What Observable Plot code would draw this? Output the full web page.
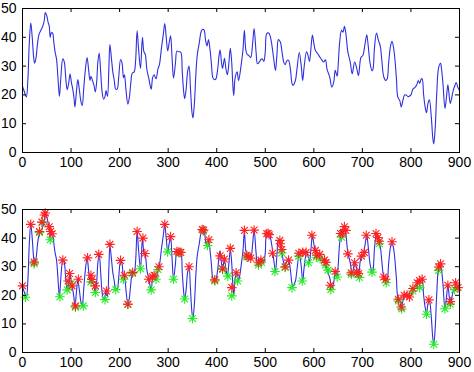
<!DOCTYPE html>
<html>
<head>
<meta charset="utf-8">
<script src="https://cdn.jsdelivr.net/npm/d3@7"></script>
<script src="https://cdn.jsdelivr.net/npm/@observablehq/plot@0.6"></script>
<style>
  html, body { margin: 0; padding: 0; background: #fff; }
  svg { display: block; }
</style>
</head>
<body>
<script>
// ---- data ----
const xTicks = [0, 100, 200, 300, 400, 500, 600, 700, 800, 900];
const yTicks = [0, 10, 20, 30, 40, 50];

const signalX = [0,4,8,11,14,17,20,23,25,28,31,34,38,42,45,47,50,53,55,57,59,62,64,67,70,73,76,79,83,86,89,92,95,98,101,103,106,108,111,114,117,120,123,126,129,133,136,139,141,144,147,150,153,155,158,161,164,167,170,172,175,178,180,183,186,189,192,195,198,202,205,208,210,213,217,220,223,226,230,233,236,239,243,247,250,253,256,260,265,268,271,275,279,282,286,290,293,296,299,302,305,308,311,315,318,322,326,329,332,334,337,340,343,346,349,351,354,357,360,364,368,371,374,377,380,383,386,389,392,395,398,402,405,407,410,412,414,416,419,422,425,428,431,433,435,438,442,445,450,454,457,460,463,466,470,474,477,481,484,488,491,494,497,500,503,507,510,513,517,521,524,527,531,534,538,541,545,548,552,555,557,562,565,570,574,577,580,585,588,591,594,597,600,603,608,613,617,620,624,627,630,633,637,641,644,648,650,653,657,660,663,666,670,675,679,684,688,692,697,701,705,709,712,716,720,722,725,729,733,737,740,744,748,751,754,758,761,765,770,773,777,780,784,787,790,794,797,800,804,808,812,815,818,821,823,826,829,832,835,838,842,845,847,850,853,857,861,863,866,870,873,876,878,881,884,887,890,893,897,900];
const signalY = [23,21,19.3,25,38,45,40,33,31,33,38,41,42.5,44,46,48.6,47.5,45,44,40,41.5,41.5,39,35,32.5,26,19.5,26,32.5,31.5,26,21.8,24,27.2,24,22.5,19,15.8,21,25.3,22,18,16.3,22,28,33,29,25,26.5,25,23.5,21,25,31,34.5,28,21,18.5,19.5,21.5,19.5,30,37.5,33,28,25,22,22,26,32.3,31,26,27,22,16.8,19,24,27.5,28,32,42.3,36,29.2,40,35,34,29,25.8,22,26,27,25.6,29,30.5,36,41,44.8,40,35.3,38,40.5,33,25.8,31,35.2,35,34.8,28,21,18.7,22,28,30,22,14,12,17,27,34,38,42,42.8,42.5,39,37,39.2,36,31,26,25.3,25.5,29,34,35.6,31,29.2,31,32.7,29,27,31,36.2,31,24,19.8,26,28,25,30,35.5,42.4,35.5,34,33.7,33,38,43,35,30.8,31.5,32.3,32.5,31.6,35,41.3,41.5,40.5,38,33,28.5,34,39.2,38.4,35.5,31.4,30.5,32,32,28.5,24,23.3,25,28.5,34.7,30.2,25,29.7,35,33.7,31.6,36,40.8,38,35.5,34.3,33,32,31.4,32.2,29,27.5,26,22.7,24.4,28.5,26.5,30,37.8,42.4,41.8,43.8,41.3,35,31.4,27.3,31.4,29.5,26.7,33,33.7,37.2,40.9,37,30.8,28.3,29,36.6,41.5,39,36.8,32,26.3,25,25.5,31,37,38.6,35.5,26,19.2,18,15.8,18.5,20,20,19.4,19.6,20,22,22.5,23.5,25,24,25.5,25.6,20.3,16,13.8,17,18.3,12.2,5,3,8.7,20,29.5,31,29,23.8,15.3,19,23.5,21,17,19,21.5,23,24.3,22.5,21.5];

const peakX = [0,17,24,35,40,45,47,55,58,61,83,94,97,102,109,115,134,141,143,150,157,173,180,202,210,217,227,236,248,252,260,268,271,281,293,305,318,322,326,343,370,373,384,396,407,412,416,428,431,440,457,462,465,470,477,486,491,503,506,508,515,530,531,534,541,548,569,577,584,596,603,606,612,622,625,634,644,655,659,663,666,670,677,684,689,692,698,704,708,728,732,735,744,748,761,774,780,786,792,797,804,813,818,823,837,857,861,876,881,892,897];
const peakY = [23.3,44.8,31.6,42.3,45.6,48.1,48.8,44,42.3,41.5,32.3,25,27.6,23.3,16.3,25.6,33.1,27,25.5,23.3,34.3,21.5,37.8,32.2,27,16.9,28,42.3,40,34.6,25.6,26.5,27,30,44.8,40.5,35.3,35.1,35,30,43,42.8,39.4,25.4,33.8,29.3,32.7,36.4,22.7,27.9,42.7,34,33.5,33,42.8,31.4,32.3,41.5,41.7,41.2,34.7,39.2,38,36,30,32.3,34.7,35,35,41,35.7,34,34.3,32.3,31.5,23.5,28.3,41.6,41.6,44,42.7,34.5,27.9,31.4,28.1,27.6,33.7,35,41,41.6,40.2,38.9,26.4,25.6,38.7,18.6,15.9,20,20.1,19.4,22.4,24.4,25.2,25.6,18.4,29.9,31,23.5,17.8,24.4,22.7];

const troughX = [6,24,35,41,57,77,92,100,109,125,141,150,170,192,208,217,226,243,265,275,279,299,311,323,334,350,372,381,396,412,423,431,443,462,486,492,520,534,541,555,569,576,589,605,613,624,629,635,648,657,677,694,720,735,749,774,781,804,818,832,847,857,870,881,890];
const troughY = [19.3,31,42,45.5,39.4,19.5,21.9,24,15.8,16.3,24.7,21,18.5,22,25.6,16.8,27.6,29.3,21.9,25.6,29,35.2,25.6,34.8,18.7,11.9,42.5,37.4,25,29,26.7,19.8,25,33.4,30.6,31.6,28.3,34.8,29.7,22.7,33.7,25,31.4,33.3,32.8,30.6,28.8,22,26.4,40.3,27.3,26.2,28.1,38,24.4,18,15.2,21.5,22.7,13.4,2.9,28.7,15.3,16.9,22];

// ---- tables built from the arrays ----
const signal = signalX.map((x, i) => ({x, y: signalY[i]}));
const peaks = peakX.map((x, i) => ({x, y: peakY[i]}));
const troughs = troughX.map((x, i) => ({x, y: troughY[i]}));

// 8-ray asterisk like MATLAB's '*'
const star8 = {
  draw(context, size) {
    const r = Math.sqrt(size / Math.PI);
    const d = r * Math.SQRT1_2;
    context.moveTo(-r, 0); context.lineTo(r, 0);
    context.moveTo(0, -r); context.lineTo(0, r);
    context.moveTo(-d, -d); context.lineTo(d, d);
    context.moveTo(-d, d); context.lineTo(d, -d);
  }
};

const W = 474;
const ML = 22, MR = 15;
const lineColor = "#2f2fe0";

function panel({height, marginTop, marginBottom, markers}) {
  const innerH = height - marginTop - marginBottom;
  const innerW = W - ML - MR;
  const tickPx = 4;
  const ty = tickPx * 50 / innerH;   // tick length in y units
  const tx = tickPx * 900 / innerW;  // tick length in x units
  const marks = [
    Plot.line(signal, {x: "x", y: "y", stroke: lineColor, strokeWidth: 1.1, curve: "catmull-rom"}),
  ];
  if (markers) {
    marks.push(
      Plot.dot(troughs, {x: "x", y: "y", symbol: star8, r: 4.8, stroke: "#22ee22", strokeWidth: 1.1}),
      Plot.dot(peaks, {x: "x", y: "y", symbol: star8, r: 4.8, stroke: "#ff2222", strokeWidth: 1.1})
    );
  }
  marks.push(
    // inward ticks (bottom, top, left, right)
    Plot.ruleX(xTicks.slice(1, -1), {x: d => d, y1: 0, y2: ty, stroke: "#000", strokeWidth: 1}),
    Plot.ruleX(xTicks.slice(1, -1), {x: d => d, y1: 50 - ty, y2: 50, stroke: "#000", strokeWidth: 1}),
    Plot.ruleY(yTicks.slice(1, -1), {y: d => d, x1: 0, x2: tx, stroke: "#000", strokeWidth: 1}),
    Plot.ruleY(yTicks.slice(1, -1), {y: d => d, x1: 900 - tx, x2: 900, stroke: "#000", strokeWidth: 1}),
    Plot.axisX({ticks: xTicks, tickSize: 0, tickPadding: 5, tickFormat: d => String(d), fill: "#000"}),
    Plot.axisY({ticks: yTicks, tickSize: 0, tickPadding: 6, tickFormat: d => String(d), fill: "#000"}),
    Plot.frame({stroke: "#000", strokeWidth: 1})
  );
  return Plot.plot({
    width: W,
    height,
    marginTop,
    marginBottom,
    marginLeft: ML,
    marginRight: MR,
    x: {domain: [0, 900], label: null},
    y: {domain: [0, 50], label: null},
    style: {fontFamily: "'Liberation Sans', Arial, Helvetica, sans-serif", fontSize: "14px", color: "#000", background: "#fff", overflow: "visible"},
    marks
  });
}

document.body.appendChild(panel({height: 186, marginTop: 8, marginBottom: 34, markers: false}));
document.body.appendChild(panel({height: 186, marginTop: 23, marginBottom: 20, markers: true}));
</script>
</body>
</html>
